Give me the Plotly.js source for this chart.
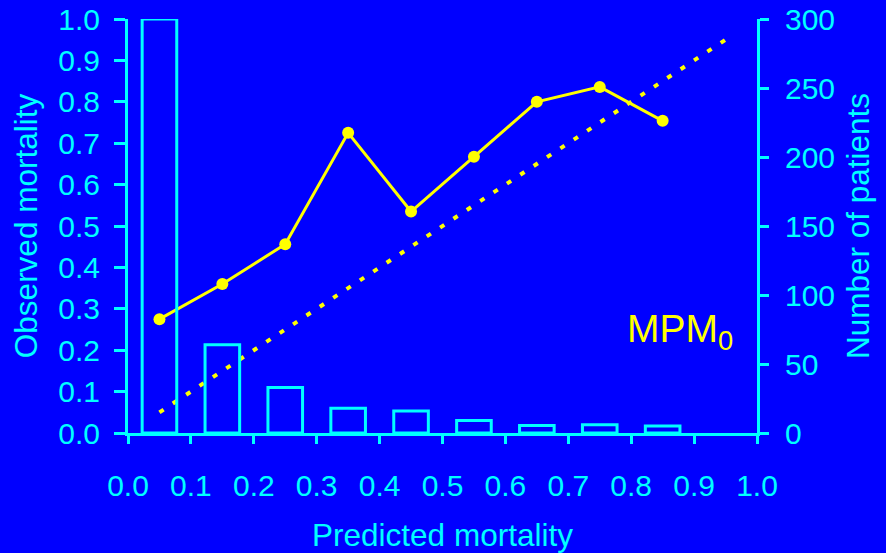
<!DOCTYPE html>
<html>
<head>
<meta charset="utf-8">
<script src="https://cdn.plot.ly/plotly-3.0.1.min.js"></script>
<style>html,body{margin:0;padding:0;background:#0000FF;}</style>
</head>
<body>
<div id="chart" style="width:886px;height:553px;"></div>
<script>
const binCenters = [0.05, 0.15, 0.25, 0.35, 0.45, 0.55, 0.65, 0.75, 0.85];
const patients = [300, 64, 33, 18, 16, 9, 5.5, 6, 5];
const observed = [0.275, 0.36, 0.456, 0.725, 0.535, 0.667, 0.80, 0.836, 0.754];
const diagX = [0.05, 0.95];
const diagY = [0.05, 0.95];
const xTicks = [0,0.1,0.2,0.3,0.4,0.5,0.6,0.7,0.8,0.9,1.0];
const xTickText = ['0.0','0.1','0.2','0.3','0.4','0.5','0.6','0.7','0.8','0.9','1.0'];
const yTicks = [0,0.1,0.2,0.3,0.4,0.5,0.6,0.7,0.8,0.9,1.0];
const yTickText = ['0.0','0.1','0.2','0.3','0.4','0.5','0.6','0.7','0.8','0.9','1.0'];
const y2Ticks = [0,50,100,150,200,250,300];

const cyan = '#00FFFF', blue = '#0000FF', yellow = '#FFFF00';
const font = {family: 'Liberation Sans, Arial, sans-serif', size: 30, color: cyan};
const titleFont = {family: 'Liberation Sans, Arial, sans-serif', size: 31.5, color: cyan};

const traces = [
  {type:'bar', x: binCenters, y: patients, yaxis:'y2', width:0.055,
   marker:{color: 'rgba(0,0,0,0)', line:{color: cyan, width:3}}, hoverinfo:'none'},
  {type:'scatter', mode:'lines', x: diagX, y: diagY,
   line:{color: yellow, width:4, dash:'5px,11px'}, hoverinfo:'none'},
  {type:'scatter', mode:'lines+markers', x: binCenters, y: observed,
   line:{color: yellow, width:3}, marker:{color: yellow, size:12}, hoverinfo:'none'}
];

const layout = {
  width: 886, height: 553,
  paper_bgcolor: blue, plot_bgcolor: 'rgba(0,0,0,0)',
  showlegend: false,
  font: font,
  margin: {l:128, r:129, t:19, b:120},
  bargap: 0,
  xaxis: {range:[0,1], tickvals: xTicks, ticktext: xTickText, showgrid:false, zeroline:false,
    showline:true, linecolor: cyan, linewidth:3, ticks:'outside', ticklen:8, tickwidth:3, tickcolor: cyan,
    ticklabelstandoff: 16, tickfont: font,
    title:{text:'Predicted mortality', font: titleFont, standoff: 23}},
  yaxis: {range:[0,1], tickvals: yTicks, ticktext: yTickText, showgrid:false, zeroline:false,
    showline:true, linecolor: cyan, linewidth:3, ticks:'outside', ticklen:11, tickwidth:3, tickcolor: cyan,
    ticklabelstandoff: 8, tickfont: font,
    title:{text:'Observed mortality', font: titleFont, standoff: 12}},
  yaxis2: {range:[0,300], overlaying:'y', side:'right', tickvals: y2Ticks, showgrid:false, zeroline:false,
    showline:true, linecolor: cyan, linewidth:3, ticks:'outside', ticklen:9, tickwidth:3, tickcolor: cyan,
    ticklabelstandoff: 10, tickfont: font,
    title:{text:'Number of patients', font: titleFont, standoff: 13}},
  annotations: [{x:0.878, y:0.245, xref:'x', yref:'y', text:'MPM<sub>0</sub>', showarrow:false,
    font:{family:'Liberation Sans, Arial, sans-serif', size:39, color: yellow}}]
};

Plotly.newPlot('chart', traces, layout, {displayModeBar:false, staticPlot:true});
</script>
</body>
</html>
